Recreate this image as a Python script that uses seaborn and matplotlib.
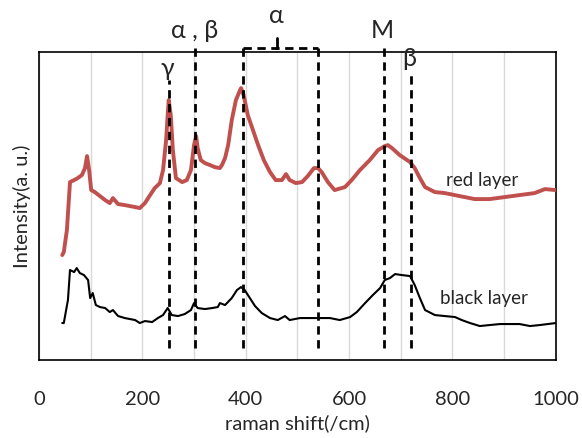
import matplotlib
matplotlib.use("Agg")
import matplotlib.pyplot as plt
import seaborn as sns

# --- data (intensity in arbitrary units) ---
red_x = [45, 48, 54, 60, 68, 75, 83, 89, 93, 97, 101, 108, 118, 128, 137, 143, 153, 166,
         186, 195, 205, 215, 224, 234, 240, 246, 249, 251, 255, 259, 265, 277, 286, 294,
         300, 304, 307, 313, 321, 331, 340, 350, 354, 360, 366, 373, 381, 389, 391, 396,
         404, 414, 424, 435, 447, 458, 470, 478, 485, 497, 509, 520, 532, 540, 547, 559,
         572, 592, 605, 621, 640, 656, 669, 675, 683, 698, 718, 727, 737, 747, 766, 785,
         814, 843, 872, 901, 930, 959, 979, 1000]
red_y = [105, 108, 130, 178, 180, 182, 185, 192, 204, 190, 170, 168, 164, 160, 157, 162, 156, 155,
         153, 152, 157, 165, 172, 177, 190, 220, 245, 260, 245, 210, 182, 178, 180, 190,
         215, 224, 212, 200, 197, 195, 193, 192, 195, 202, 215, 240, 260, 270, 272, 265,
         245, 230, 215, 200, 188, 180, 180, 186, 180, 177, 178, 184, 192, 192, 188, 178,
         170, 173, 180, 190, 200, 210, 214, 215, 212, 205, 198, 192, 182, 173, 168, 167,
         164, 161, 161, 163, 165, 167, 171, 170]

black_x = [45, 48, 56, 60, 68, 73, 79, 87, 95, 99, 104, 110, 118, 128, 137, 143, 153, 166,
           186, 195, 205, 219, 230, 240, 249, 257, 269, 282, 294, 300, 307, 321, 335, 346,
           350, 360, 373, 383, 391, 398, 408, 418, 431, 447, 462, 476, 485, 505, 524, 540,
           553, 563, 582, 602, 615, 631, 646, 660, 669, 679, 689, 702, 718, 727, 737, 747,
           766, 785, 805, 818, 834, 853, 872, 892, 911, 930, 950, 969, 1000]
black_y = [37, 37, 60, 90, 88, 92, 87, 85, 80, 62, 67, 55, 53, 52, 48, 50, 44, 42,
           40, 37, 39, 38, 42, 45, 52, 45, 44, 46, 50, 57, 52, 51, 52, 53,
           57, 55, 62, 70, 73, 70, 62, 54, 47, 42, 40, 44, 40, 42, 42, 42,
           42, 42, 40, 43, 48, 57, 65, 72, 80, 82, 86, 85, 84, 75, 62, 50,
           45, 44, 43, 40, 37, 34, 35, 36, 36, 36, 34, 35, 37]

# peak markers: position, top of dashed line, label, label y
peak_pos = [251, 302, 395, 540, 667, 720]
peak_top = [280, 312, 312, 312, 312, 288]
label_text = ["γ", "α , β", "α", "M", "β"]
label_x = [249, 302, 460, 665, 717]
label_y = [292, 330, 345, 330, 302]

sns.set_style("white")
plt.rcParams["font.family"] = ["Lato", "DejaVu Sans"]

fig, ax = plt.subplots(figsize=(5.82, 4.38), dpi=100)
fig.subplots_adjust(left=0.067, right=0.955, bottom=0.178, top=0.881)

sns.lineplot(x=red_x, y=red_y, ax=ax, color="#c0504d", linewidth=2.8, zorder=3)
sns.lineplot(x=black_x, y=black_y, ax=ax, color="black", linewidth=1.5, zorder=3)

# dashed peak lines
for pos, top in zip(peak_pos, peak_top):
    ax.plot([pos, pos], [12, top], color="black", lw=2, dashes=(3, 2),
            clip_on=False, zorder=4)
# bracket over the alpha region
ax.plot([peak_pos[2], peak_pos[3]], [312, 312], color="black", lw=2, dashes=(3, 2),
        clip_on=False, zorder=4)
ax.plot([460, 460], [312, 322], color="black", lw=2, clip_on=False, zorder=4)

for t, lx, ly in zip(label_text, label_x, label_y):
    ax.text(lx, ly, t, ha="center", va="center", fontsize=18, clip_on=False)

ax.text(788, 180, "red layer", ha="left", va="center", fontsize=13.5)
ax.text(776, 62, "black layer", ha="left", va="center", fontsize=13.5)

ax.set_xlim(0, 1000)
ax.set_ylim(0, 308)
ax.set_xticks(range(0, 1001, 200))
ax.set_xticks(range(100, 1000, 200), minor=True)
ax.set_yticks([])
ax.grid(axis="x", which="both", color="#d9d9d9", lw=1)
ax.tick_params(axis="x", which="major", direction="in", length=7, width=1,
               pad=22, labelsize=14.5, color="black")
ax.tick_params(axis="x", which="minor", length=0)
for s in ax.spines.values():
    s.set_visible(True)
    s.set_color("black")
    s.set_linewidth(1.2)

ax.set_xlabel("raman shift(/cm)", fontsize=14.5, labelpad=5)
ax.set_ylabel("Intensity(a. u.)", fontsize=14.5, labelpad=6)

fig.savefig("out.png", dpi=100)
